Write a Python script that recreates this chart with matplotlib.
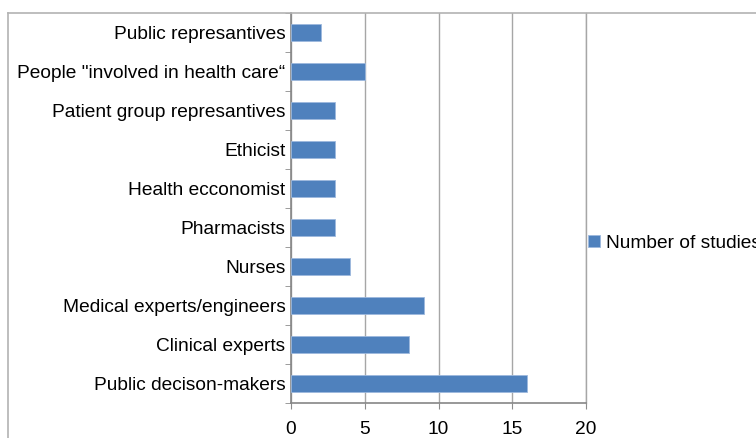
import matplotlib
matplotlib.use("Agg")
import matplotlib.pyplot as plt
from matplotlib.lines import Line2D
import numpy as np

categories = ["Public decison-makers", "Clinical experts", "Medical experts/engineers",
              "Nurses", "Pharmacists", "Health ecconomist", "Ethicist",
              "Patient group represantives", "People \"involved in health care\u201c",
              "Public represantives"]
values = [16, 8, 9, 4, 3, 3, 3, 3, 5, 2]
series_name = "Number of studies"
xticks = [0, 5, 10, 15, 20]

plt.rcParams['font.family'] = ['Liberation Sans', 'DejaVu Sans']
FS = 13.8

fig = plt.figure(figsize=(7.56, 4.38), dpi=100)
ax = fig.add_axes([291/756, 1-403/438, (586-291)/756, (403-13)/438])

y = np.arange(len(categories))
ax.barh(y, values, height=0.42, color="#4F81BD", edgecolor="#9DB9DD", linewidth=0.6,
        label=series_name, zorder=3)
ax.set_ylim(-0.5, len(categories)-0.5)
ax.set_xlim(0, 20)
ax.set_xticks(xticks)
ax.set_xticklabels([str(t) for t in xticks], fontsize=FS)
ax.set_yticks(y)
ax.set_yticklabels(categories, fontsize=FS)
ax.set_yticks(np.arange(-0.5, len(categories), 1.0), minor=True)
ax.tick_params(axis='y', which='major', length=0, pad=4)
ax.tick_params(axis='y', which='minor', length=4, color="#8c8c8c", direction='out')
ax.tick_params(axis='x', which='major', length=4, color="#8c8c8c", direction='out', pad=9)
ax.grid(axis='x', color="#a6a6a6", linewidth=1.0, zorder=0)
ax.set_axisbelow(True)
ax.spines['top'].set_visible(False)
ax.spines['right'].set_color("#a6a6a6")
ax.spines['right'].set_linewidth(1.0)
ax.spines['left'].set_color("#868686")
ax.spines['left'].set_linewidth(1.2)
ax.spines['bottom'].set_color("#868686")
ax.spines['bottom'].set_linewidth(1.2)

# outer chart frame
fig.add_artist(Line2D([8/756, 8/756], [0, 1-13/438], transform=fig.transFigure,
                      color="#b3b3b3", linewidth=1.2))
fig.add_artist(Line2D([8/756, 1], [1-13/438, 1-13/438], transform=fig.transFigure,
                      color="#b3b3b3", linewidth=1.2))

fig.legend(loc='center left', bbox_to_anchor=(588/756, 1-243/438), frameon=False,
           fontsize=FS, handlelength=0.6, handleheight=0.6, handletextpad=0.35,
           borderaxespad=0, borderpad=0)

fig.savefig("out.png", dpi=100)
